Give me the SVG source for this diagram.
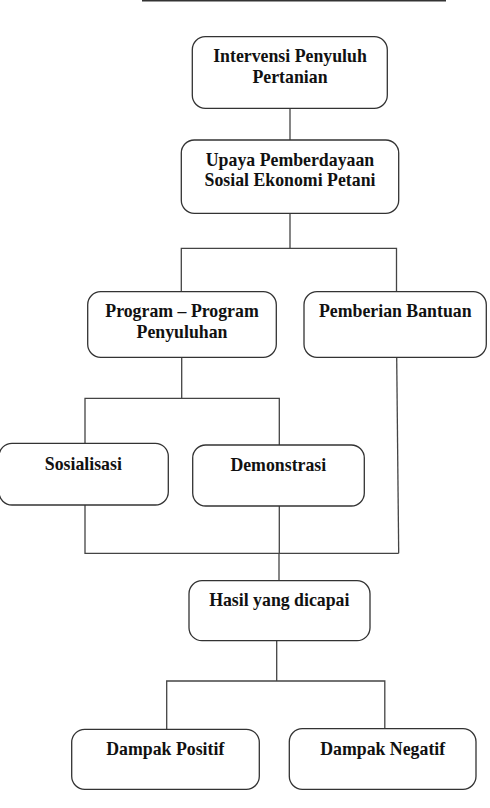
<svg xmlns="http://www.w3.org/2000/svg" width="490" height="808" viewBox="0 0 490 808">
<style>
.box{fill:#fff;stroke:#333;stroke-width:1.3}
.t{font-family:"Liberation Serif","Times New Roman",serif;font-weight:bold;font-size:17.8px;fill:#111;text-anchor:middle}
.c{fill:none;stroke:#444;stroke-width:1.3}
</style>
<rect width="490" height="808" fill="#fff"/>
<line x1="142" y1="0.7" x2="446" y2="0.7" stroke="#333" stroke-width="1.6"/>
<g id="connectors">
<path class="c" d="M290 108.3V140"/>
<path class="c" d="M290 213.3V248.3"/>
<path class="c" d="M181.3 291.7V248.3H396.5V291.7"/>
<path class="c" d="M181.7 357.3V398.3"/>
<path class="c" d="M85 443.3V398.3H279.3V445"/>
<path class="c" d="M85 505V553.3H398.7"/>
<path class="c" d="M279.3 506V553.3"/>
<path class="c" d="M396.7 357.3L398.7 553.3"/>
<path class="c" d="M279 553.3V580.7"/>
<path class="c" d="M276.7 640.7V681"/>
<path class="c" d="M166.7 729.3V681H384.8V728.7"/>
</g>
<g id="n1"><rect class="box" x="192.3" y="36.7" width="195" height="71.6" rx="13"/>
<text class="t" x="290" y="62.3">Intervensi Penyuluh</text><text class="t" x="290" y="82.7">Pertanian</text></g>
<g id="n2"><rect class="box" x="181.3" y="140" width="217.4" height="73.3" rx="13"/>
<text class="t" x="290" y="165.7">Upaya Pemberdayaan</text><text class="t" x="290" y="186">Sosial Ekonomi Petani</text></g>
<g id="n3"><rect class="box" x="87.7" y="291.7" width="188.6" height="65.6" rx="13"/>
<text class="t" x="182" y="317.3">Program – Program</text><text class="t" x="182" y="338.3">Penyuluhan</text></g>
<g id="n4"><rect class="box" x="304" y="291.7" width="182.3" height="65.6" rx="13"/>
<text class="t" x="395.3" y="317.3">Pemberian Bantuan</text></g>
<g id="n5"><rect class="box" x="-1" y="443.3" width="169.3" height="61.7" rx="13"/>
<text class="t" x="83.3" y="470">Sosialisasi</text></g>
<g id="n6"><rect class="box" x="192.7" y="445" width="171.6" height="61" rx="13"/>
<text class="t" x="278.3" y="470.7">Demonstrasi</text></g>
<g id="n7"><rect class="box" x="189" y="580.7" width="181" height="60" rx="13"/>
<text class="t" x="279.3" y="606">Hasil yang dicapai</text></g>
<g id="n8"><rect class="box" x="71.7" y="729.3" width="187.6" height="60" rx="13"/>
<text class="t" x="165.3" y="755">Dampak Positif</text></g>
<g id="n9"><rect class="box" x="289.3" y="728.7" width="186.7" height="60.6" rx="13"/>
<text class="t" x="382.7" y="755">Dampak Negatif</text></g>
</svg>
